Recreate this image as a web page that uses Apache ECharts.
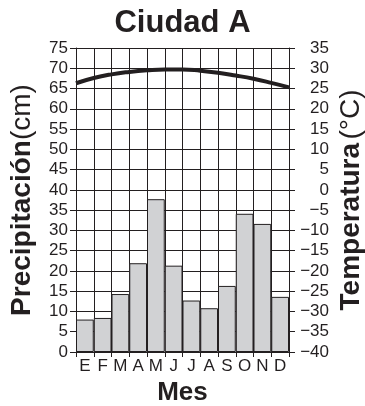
<!DOCTYPE html>
<html>
<head>
<meta charset="utf-8">
<script src="https://cdn.jsdelivr.net/npm/echarts@6/dist/echarts.min.js"></script>
<style>
    html, body { margin: 0; padding: 0; background: #fff; }
    #chart { width: 365px; height: 406px; }
</style>
</head>
<body>
<div id="chart"></div>
<script>
// months (Spanish initials)
const months = ['E', 'F', 'M', 'A', 'M', 'J', 'J', 'A', 'S', 'O', 'N', 'D']
// precipitation, cm
const precipitation = [8, 8.4, 14.3, 21.9, 37.7, 21.3, 12.7, 10.8, 16.3, 34.1, 31.6, 13.6]
// temperature °C, read at the month boundaries (start of Jan .. end of Dec)
const tempPoints = ['0', '1', '2', '3', '4', '5', '6', '7', '8', '9', '10', '11', '12']
const temperature = [26.3, 27.6, 28.5, 29.1, 29.5, 29.7, 29.7, 29.4, 28.9, 28.2, 27.4, 26.4, 25.3]

const ink = '#231f20'
const font = '"Liberation Sans", Arial, Helvetica, sans-serif'

const chart = echarts.init(document.getElementById('chart'))

chart.setOption({
    animation: false,
    backgroundColor: '#fff',
    textStyle: { fontFamily: font, color: ink },
    title: {
        text: 'Ciudad A',
        left: 'center',
        top: 3,
        textStyle: { fontFamily: font, fontSize: 31, fontWeight: 'bold', color: ink },
    },
    grid: { left: 76, right: 76, top: 48, bottom: 54, outerBoundsMode: 'none' },
    xAxis: [
        {
            type: 'category',
            data: months,
            name: 'Mes',
            nameLocation: 'middle',
            nameGap: 25,
            nameTextStyle: { fontFamily: font, fontSize: 26, fontWeight: 'bold', color: ink },
            axisLine: { lineStyle: { color: ink, width: 1 } },
            axisTick: { show: true, interval: 0, length: 5, lineStyle: { color: ink } },
            axisLabel: { interval: 0, fontSize: 17, color: ink, margin: 6 },
            splitLine: { show: true, interval: 0, lineStyle: { color: ink, width: 1 } },
        },
        {
            type: 'category',
            data: tempPoints,
            boundaryGap: false,
            show: false,
        },
    ],
    yAxis: [
        {
            type: 'value',
            min: 0,
            max: 75,
            interval: 5,
            name: '{b|Precipitación}{n|(cm)}',
            nameLocation: 'middle',
            nameGap: 40,
            nameTextStyle: {
                rich: {
                    b: { fontFamily: font, fontSize: 28, fontWeight: 'bold', color: ink },
                    n: { fontFamily: font, fontSize: 28, color: ink },
                },
            },
            axisLine: { show: true, lineStyle: { color: ink } },
            axisTick: { show: true, length: 6, lineStyle: { color: ink } },
            axisLabel: { fontSize: 17, color: ink, margin: 8 },
            splitLine: { show: true, lineStyle: { color: ink, width: 1 } },
        },
        {
            type: 'value',
            min: -40,
            max: 35,
            interval: 5,
            position: 'right',
            name: '{b|Temperatura} {n|(°C)}',
            nameLocation: 'middle',
            nameGap: 48,
            nameRotate: 90,
            nameMoveOverlap: false,
            nameTextStyle: {
                rich: {
                    b: { fontFamily: font, fontSize: 28, fontWeight: 'bold', color: ink },
                    n: { fontFamily: font, fontSize: 28, color: ink },
                },
            },
            axisLine: { show: true, lineStyle: { color: ink } },
            axisTick: { show: true, length: 6, lineStyle: { color: ink } },
            axisLabel: {
                fontSize: 17,
                color: ink,
                align: 'right',
                margin: 40,
                formatter: (v) => String(v).replace('-', '\u2212'),
            },
            splitLine: { show: false },
        },
    ],
    series: [
        {
            type: 'bar',
            data: precipitation,
            barCategoryGap: 0,
            itemStyle: { color: '#d1d2d4', borderColor: ink, borderWidth: 1 },
        },
        {
            type: 'line',
            xAxisIndex: 1,
            yAxisIndex: 1,
            data: temperature,
            smooth: true,
            showSymbol: false,
            lineStyle: { color: ink, width: 4 },
        },
    ],
})
</script>
</body>
</html>
